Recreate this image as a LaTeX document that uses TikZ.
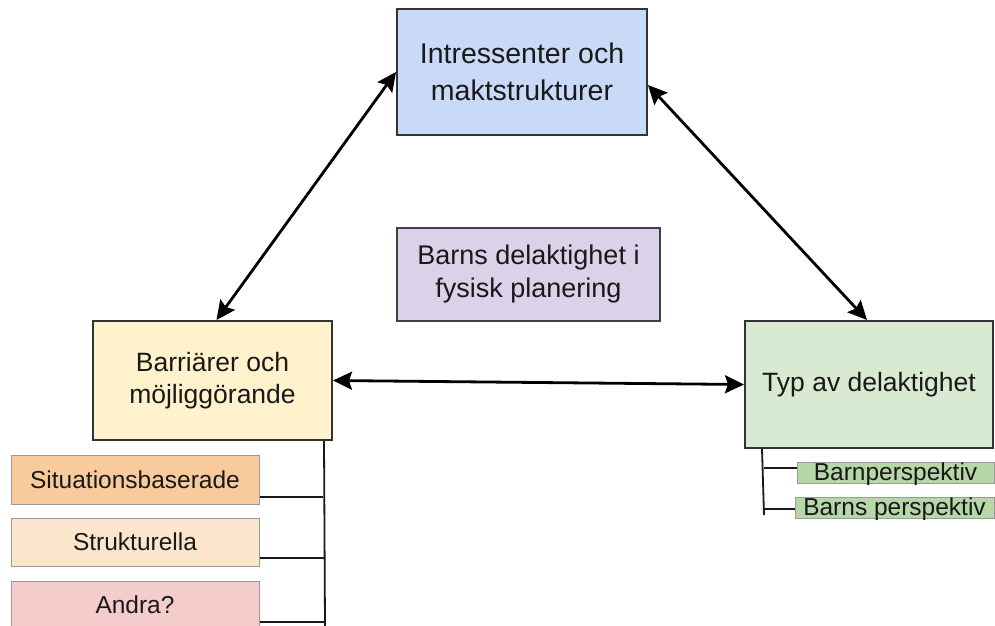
\documentclass[tikz,border=0pt]{standalone}
\usepackage{fontspec}
\setmainfont{Liberation Sans}
\usetikzlibrary{arrows.meta,calc}
\definecolor{cblue}{HTML}{C9DAF8}
\definecolor{cpurp}{HTML}{D9D2E9}
\definecolor{cyell}{HTML}{FFF2CC}
\definecolor{cgreen}{HTML}{D9EAD3}
\definecolor{cdgreen}{HTML}{B6D7A8}
\definecolor{corange}{HTML}{F9CB9C}
\definecolor{clorange}{HTML}{FCE5CD}
\definecolor{cpink}{HTML}{F4CCCC}
\definecolor{cborder}{HTML}{333333}
\definecolor{cgrayb}{HTML}{999999}
\tikzset{
  mainbox/.style={draw=cborder, line width=2pt, rectangle, inner sep=0pt, align=center, text=black!90,
    font=\fontsize{26.5}{32}\selectfont},
  subbox/.style={draw=cgrayb, line width=1pt, rectangle, inner sep=0pt, align=center, text=black!90,
    font=\fontsize{24.5}{28}\selectfont},
  biarrow/.style={line width=2.8pt, {Stealth[length=19pt,width=18pt,inset=3pt]}-{Stealth[length=19pt,width=18pt,inset=3pt]}},
  treeline/.style={line width=1.8pt, black!90},
}
\begin{document}
\begin{tikzpicture}[x=1pt,y=-1pt]
\useasboundingbox (0,0) rectangle (995,625);
\fill[white] (0,0) rectangle (995,625);

\node[mainbox, fill=cblue, minimum width=250pt, minimum height=126pt,
  font=\fontsize{28.5}{37}\selectfont] (top) at (522,72) {Intressenter och\\maktstrukturer};
\node[mainbox, fill=cpurp, line width=1.6pt, draw=black!75, minimum width=263pt, minimum height=93pt,
  font=\fontsize{27}{33}\selectfont] (center) at (528.5,274.5) {Barns delaktighet i\\fysisk planering};
\node[mainbox, fill=cyell, minimum width=239pt, minimum height=119pt] (left) at (212.5,380.5) {Barriärer och\\möjliggörande};
\node[mainbox, fill=cgreen, minimum width=248pt, minimum height=127pt] (right) at (869,384.5) {Typ av delaktighet};

\node[subbox, fill=corange, minimum width=248pt, minimum height=49pt] (sit) at (135,479.5) {Situationsbaserade};
\node[subbox, fill=clorange, minimum width=248pt, minimum height=48pt] (str) at (135,542) {Strukturella};
\node[subbox, fill=cpink, minimum width=248pt, minimum height=48pt] (andra) at (135,605) {Andra?};

\node[subbox, fill=cdgreen, minimum width=197pt, minimum height=21pt, text depth=2pt] (bp) at (895.5,472.5) {Barnperspektiv};
\node[subbox, fill=cdgreen, minimum width=199pt, minimum height=21pt, text depth=2pt] (bsp) at (894.5,507.5) {Barns perspektiv};

% arrows
\draw[biarrow] ([xshift=4pt]left.north) -- (top.west);
\draw[biarrow] ([yshift=-13pt]top.east) -- ([xshift=-2pt]right.north);
\draw[biarrow] (left.east) -- (right.west);

% left tree
\coordinate (lt) at ([xshift=-9pt]left.south east);
\coordinate (lb) at (325,626);
\draw[treeline] (lt) -- (lb);
\draw[treeline] ([yshift=-17.5pt]sit.east) -- ++(63,0);
\draw[treeline] ([yshift=-16pt]str.east) -- ++(64,0);
\draw[treeline] ([yshift=-17pt]andra.east) -- ++(65,0);

% right tree
\coordinate (rt) at ([xshift=18pt]right.south west);
\coordinate (rb) at (764,515);
\draw[treeline] (rt) -- (rb);
\draw[treeline] ([yshift=4.5pt]bp.west) -- (763.5,468);
\draw[treeline] ([yshift=-1.5pt]bsp.west) -- (764,509);
\end{tikzpicture}
\end{document}
